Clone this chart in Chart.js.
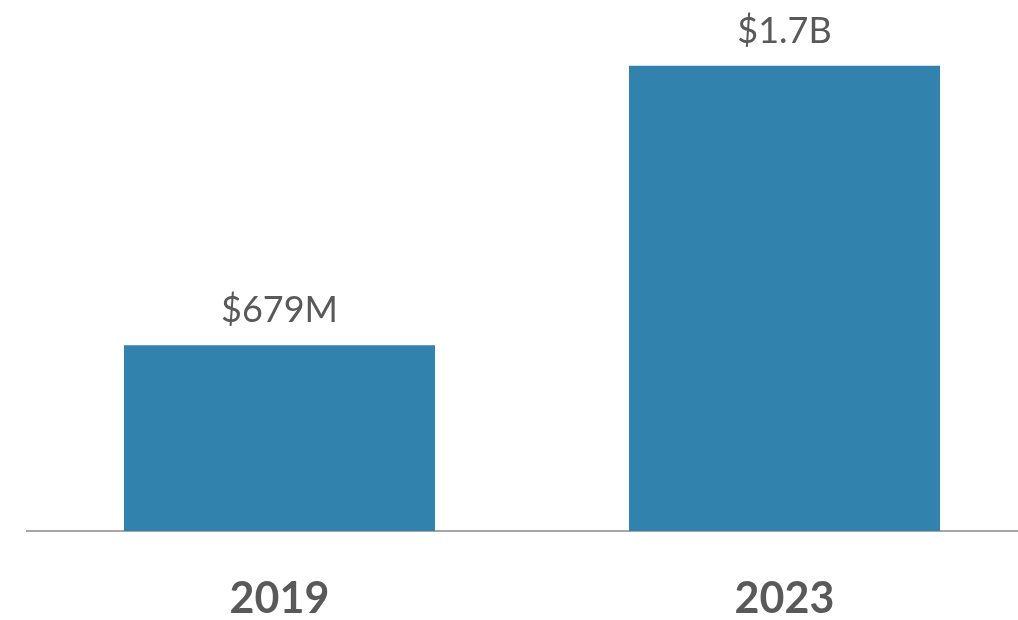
<!DOCTYPE html>
<html>
<head>
<meta charset="utf-8">
<title>Revenue 2019 vs 2023</title>
<script src="https://cdn.jsdelivr.net/npm/chart.js@4/dist/chart.umd.min.js"></script>
<style>
  html, body { margin: 0; padding: 0; background: #fff; overflow: hidden; }
  #wrap { width: 1037px; height: 620px; }
</style>
</head>
<body>
<div id="wrap"><canvas id="revenueChart" width="1037" height="620"></canvas></div>
<script>
// values in millions of dollars
const years = ['2019', '2023'];
const revenue = [679, 1700];
const valueLabels = ['$679M', '$1.7B'];

const textGrey = '#595959';
const barBlue = '#3183ad';

// writes the value text above each bar
const barValueLabels = {
    id: 'barValueLabels',
    afterDatasetsDraw(chart) {
        const { ctx } = chart;
        const meta = chart.getDatasetMeta(0);
        ctx.save();
        ctx.font = '36px Lato';
        ctx.fillStyle = textGrey;
        ctx.textAlign = 'center';
        ctx.textBaseline = 'alphabetic';
        meta.data.forEach((bar, i) => {
            ctx.fillText(valueLabels[i], bar.x, bar.y - 23);
        });
        ctx.restore();
    }
};

const ctx = document.getElementById('revenueChart');

new Chart(ctx, {
    type: 'bar',
    data: {
        labels: years,
        datasets: [{
            data: revenue,
            backgroundColor: barBlue,
            borderWidth: 0,
            barPercentage: 1,
            categoryPercentage: 0.616
        }]
    },
    options: {
        responsive: false,
        animation: false,
        devicePixelRatio: 1,
        layout: {
            padding: { left: 27, right: 0, top: 0, bottom: 0 }
        },
        scales: {
            x: {
                grid: { display: false },
                border: { display: true, color: '#a6a6a6', width: 2 },
                ticks: {
                    color: textGrey,
                    padding: 34,
                    font: { family: 'Lato', size: 43, weight: 'bold' }
                },
                // fixed height for the year row under the baseline
                afterFit(scale) {
                    scale.height = 89;
                }
            },
            y: {
                display: false,
                min: 0,
                max: 1940
            }
        },
        plugins: {
            legend: { display: false },
            tooltip: { enabled: false }
        }
    },
    plugins: [barValueLabels]
});
</script>
</body>
</html>
